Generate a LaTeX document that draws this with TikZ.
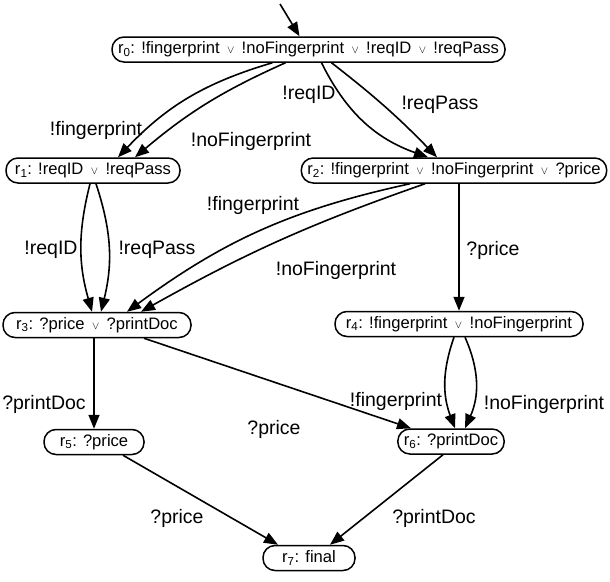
\documentclass[tikz,border=0pt]{standalone}
\usepackage{fontspec}
\setmainfont{Liberation Sans}
\usetikzlibrary{arrows.meta,calc}

% logical "or" between the clauses of a state
\newcommand{\vsep}{\,{\fontsize{11}{11}\selectfont$\vee$}\,}

\tikzset{
  state/.style={draw, line width=1.5pt, rounded corners=12pt,
    minimum height=25pt, inner xsep=6pt, inner ysep=2pt,
    font=\fontsize{16.6}{18}\selectfont},
  lbl/.style={font=\fontsize{19.5}{21}\selectfont, inner sep=1pt},
  tr/.style={line width=1.6pt, -{Triangle[length=14pt,width=11pt]}}
}

\begin{document}
\begin{tikzpicture}[x=1pt,y=-1pt]
  \useasboundingbox (0,0) rectangle (610,581);

  % states
  \node[state, minimum width=393pt] (r0) at (308.5,49.5)
    {r\textsubscript{0}: !fingerprint \vsep{} !noFingerprint \vsep{} !reqID \vsep{} !reqPass};
  \node[state, minimum width=174pt] (r1) at (93,170.5)
    {r\textsubscript{1}: !reqID \vsep{} !reqPass};
  \node[state, minimum width=302pt] (r2) at (454,170.5)
    {r\textsubscript{2}: !fingerprint \vsep{} !noFingerprint \vsep{} ?price};
  \node[state, minimum width=188pt] (r3) at (97,325)
    {r\textsubscript{3}: ?price \vsep{} ?printDoc};
  \node[state, minimum width=248pt] (r4) at (459,324)
    {r\textsubscript{4}: !fingerprint \vsep{} !noFingerprint};
  \node[state, minimum width=100pt] (r5) at (94,442)
    {r\textsubscript{5}: ?price};
  \node[state, minimum width=106pt] (r6) at (451,441.5)
    {r\textsubscript{6}: ?printDoc};
  \node[state, minimum width=92pt] (r7) at (309,558)
    {r\textsubscript{7}: final};

  % initial arrow
  \coordinate (init) at (280,4);
  \draw[tr] (init) -- ($(r0.north)+(-9,0)$);

  % transitions
  \draw[tr] ($(r0.south)+(-36,0)$) to[bend right=15] ($(r1.north)+(25,0)$);
  \draw[tr] ($(r0.south)+(-23,0)$) to[bend right=8] ($(r1.north)+(42,0)$);
  \draw[tr] ($(r0.south)+(13,0)$) to[bend right=22] ($(r2.north)+(-26,0)$);
  \draw[tr] ($(r0.south)+(23,0)$) to[bend left=4] ($(r2.north)+(-17,0)$);

  \draw[tr] ($(r1.south)+(-3,0)$) to[bend right=15] ($(r3.north)+(-5,0)$);
  \draw[tr] ($(r1.south)+(3,0)$) to[bend left=16] ($(r3.north)+(4,0)$);

  \draw[tr] ($(r2.south)+(-44,0)$) to[bend right=12] ($(r3.north)+(30,0)$);
  \draw[tr] ($(r2.south)+(-29,0)$) to[bend right=5] ($(r3.north)+(44,0)$);

  \draw[tr] (r4.north |- r2.south) -- (r4.north);

  \draw[tr] (r5.north |- r3.south) -- (r5.north);
  \draw[tr] ($(r3.south)+(47,0)$) -- ($(r6.north)+(-40,0)$);

  \draw[tr] ($(r4.south)+(-5,0)$) to[bend right=20] ($(r6.north)+(4,0)$);
  \draw[tr] ($(r4.south)+(6,0)$) to[bend left=24] ($(r6.north)+(14,0)$);

  \draw[tr] ($(r5.south)+(29,0)$) -- ($(r7.north)+(-31,0)$);
  \draw[tr] ($(r6.south)+(-8,0)$) -- ($(r7.north)+(21,0)$);

  % transition labels
  \node[lbl] (l01a) at (96,130) {!fingerprint};
  \node[lbl] (l01b) at (251,141) {!noFingerprint};
  \node[lbl] (l02a) at (309,95) {!reqID};
  \node[lbl] (l02b) at (440,105) {!reqPass};
  \node[lbl] (l13a) at (51,250) {!reqID};
  \node[lbl] (l13b) at (157,250) {!reqPass};
  \node[lbl] (l23a) at (253,205) {!fingerprint};
  \node[lbl] (l23b) at (336,270) {!noFingerprint};
  \node[lbl] (l24) at (493,250) {?price};
  \node[lbl] (l35) at (44,404) {?printDoc};
  \node[lbl] (l36) at (274,429) {?price};
  \node[lbl] (l46a) at (396,401) {!fingerprint};
  \node[lbl] (l46b) at (544,404) {!noFingerprint};
  \node[lbl] (l57) at (177,518) {?price};
  \node[lbl] (l67) at (434,518) {?printDoc};
\end{tikzpicture}
\end{document}
